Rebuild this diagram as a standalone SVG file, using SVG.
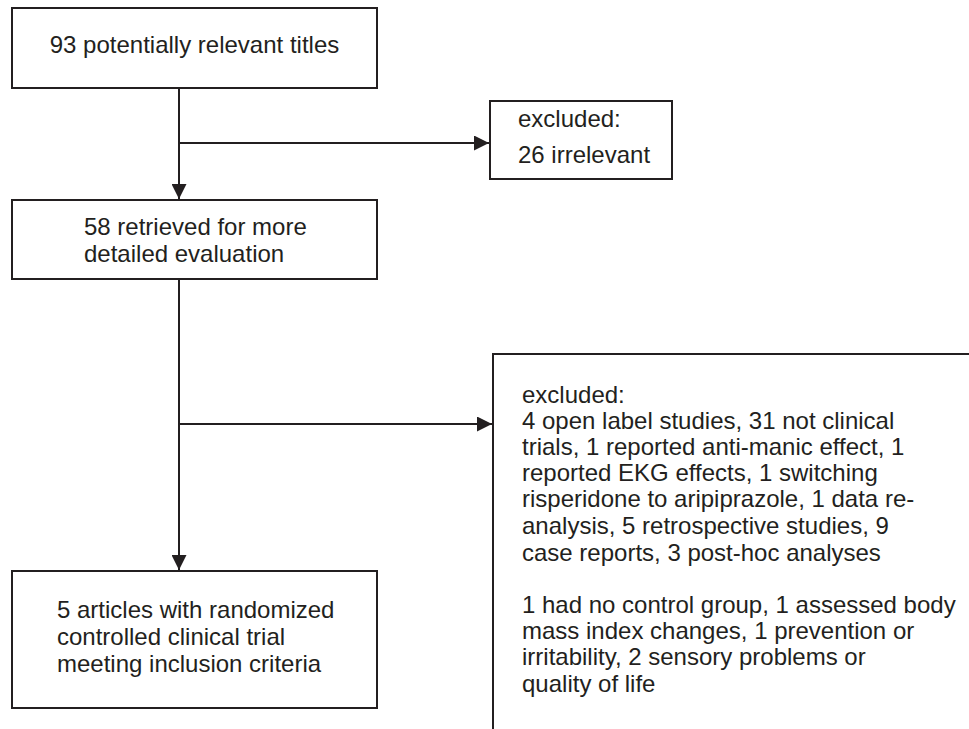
<svg xmlns="http://www.w3.org/2000/svg" width="969" height="729" viewBox="0 0 969 729">
<style>
.box{fill:#fff;stroke:#231f20;stroke-width:2}
.t{font-family:"Liberation Sans",Arial,sans-serif;font-size:24px;fill:#231f20}
.c{fill:none;stroke:#231f20;stroke-width:2}
</style>
<defs>
<marker id="ah" viewBox="0 0 10 10" refX="10" refY="5" markerWidth="15" markerHeight="15" markerUnits="userSpaceOnUse" orient="auto">
<path d="M0,0 L10,5 L0,10 Z" fill="#231f20"/>
</marker>
</defs>
<rect width="969" height="729" fill="#fff"/>
<g id="connectors">
<line class="c" x1="179" y1="88" x2="179" y2="199" marker-end="url(#ah)"/>
<line class="c" x1="179" y1="143" x2="489" y2="143" marker-end="url(#ah)"/>
<line class="c" x1="179" y1="279" x2="179" y2="570" marker-end="url(#ah)"/>
<line class="c" x1="179" y1="424" x2="492" y2="424" marker-end="url(#ah)"/>
</g>
<g id="n1">
<rect class="box" x="12" y="8" width="365" height="80"/>
<text class="t" x="194.5" y="53" text-anchor="middle">93 potentially relevant titles</text>
</g>
<g id="n2">
<rect class="box" x="490" y="101" width="182" height="78"/>
<text class="t" x="518" y="127">excluded:</text>
<text class="t" x="518" y="163">26 irrelevant</text>
</g>
<g id="n3">
<rect class="box" x="12" y="200" width="365" height="79"/>
<text class="t" x="84" y="235">58 retrieved for more</text>
<text class="t" x="84" y="262">detailed evaluation</text>
</g>
<g id="n4">
<rect class="box" x="493" y="354" width="520" height="420"/>
<text class="t" x="522" y="403">excluded:</text>
<text class="t" x="522" y="429">4 open label studies, 31 not clinical</text>
<text class="t" x="522" y="455">trials, 1 reported anti-manic effect, 1</text>
<text class="t" x="522" y="481">reported EKG effects, 1 switching</text>
<text class="t" x="522" y="507">risperidone to aripiprazole, 1 data re-</text>
<text class="t" x="522" y="534">analysis, 5 retrospective studies, 9</text>
<text class="t" x="522" y="561">case reports, 3 post-hoc analyses</text>
<text class="t" x="522" y="613">1 had no control group, 1 assessed body</text>
<text class="t" x="522" y="639">mass index changes, 1 prevention or</text>
<text class="t" x="522" y="665">irritability, 2 sensory problems or</text>
<text class="t" x="522" y="692">quality of life</text>
</g>
<g id="n5">
<rect class="box" x="12" y="571" width="365" height="137"/>
<text class="t" x="57" y="618">5 articles with randomized</text>
<text class="t" x="57" y="645">controlled clinical trial</text>
<text class="t" x="57" y="672">meeting inclusion criteria</text>
</g>
</svg>
